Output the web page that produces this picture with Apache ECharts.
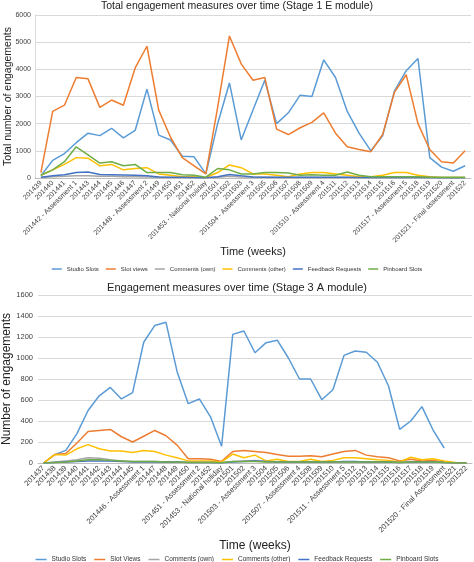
<!DOCTYPE html>
<html><head><meta charset="utf-8">
<script src="https://cdn.jsdelivr.net/npm/echarts@6/dist/echarts.min.js"></script>
<style>html,body{margin:0;padding:0;background:#fff}#c{width:474px;height:562px}</style>
</head><body><div id="c"></div>
<script>
// ---- Chart 1: Stage 1 E module ----
const weeks1 = ['201439','201440','201441','201442 - Assessment 1','201443','201444','201445','201446','201447','201448 - Assessment 2','201449','201450','201451','201452','201453 - National holiday','201501','201502','201503','201504 - Assessment 3','201505','201506','201507','201508','201509','201510 - Assessment 4','201511','201512','201513','201514','201515','201516','201517 - Assessment 5','201518','201519','201520','201521 - Final assessment','201522'];
const studio1 = [80,650,900,1300,1650,1560,1830,1480,1750,3270,1580,1400,800,780,150,2000,3500,1400,2500,3600,2000,2400,3050,3000,4350,3700,2450,1650,1000,1550,3200,3950,4400,750,400,250,450];
const slotViews1 = [200,2450,2680,3700,3650,2600,2870,2680,4050,4850,2500,1500,750,450,150,2600,5230,4200,3600,3700,1800,1600,1850,2050,2400,1650,1150,1050,970,1600,3150,3800,2000,1050,600,550,1000];
const commOwn1 = [20,50,60,80,80,60,60,50,50,40,30,20,20,15,5,30,60,40,30,30,20,20,20,20,20,20,20,15,10,15,20,20,20,10,5,5,5];
const commOther1 = [100,300,500,750,730,450,500,300,350,380,150,100,50,50,20,200,480,380,150,150,100,50,150,200,200,150,100,50,50,100,200,200,100,50,20,20,20];
const feedback1 = [30,80,120,200,220,130,120,110,100,80,40,30,30,20,10,50,130,80,40,30,30,30,30,30,30,30,30,20,20,20,20,20,20,20,10,10,10];
const pinboard1 = [100,300,600,1150,850,550,600,450,500,200,200,200,120,100,30,350,300,150,150,200,200,180,100,120,100,100,220,100,50,50,50,50,50,30,30,30,30];
const names1 = ['Studio Slots','Slot views','Comments (own)','Comments (other)','Feedback Requests','Pinboard Slots'];

// ---- Chart 2: Stage 3 A module ----
const weeks2 = ['201437','201438','201439','201440','201441','201442','201443','201444','201445','201446 - Assessment 1','201447','201448','201449','201450','201451 - Assessment 2','201452','201453 - National holiday','201501','201502','201503 - Assessment 3','201504','201505','201506','201507 - Assessment 4','201508','201509','201510','201511 - Assessment 5','201512','201513','201514','201515','201516','201517','201518','201519','201520 - Final Assessment','201521','201522'];
const studio2 = [0,80,120,280,500,640,720,610,670,1150,1310,1340,870,565,610,440,160,1225,1257,1050,1146,1170,1000,800,800,603,698,1025,1067,1055,960,733,320,400,537,314,143,null,null];
const slotViews2 = [0,80,90,190,300,310,320,250,200,255,310,260,170,40,40,35,15,110,120,110,100,80,65,65,70,60,85,110,120,75,60,50,20,35,20,25,10,0,0];
const commOwn2 = [0,10,20,30,50,45,30,20,15,15,15,10,10,5,5,5,2,15,20,25,15,10,10,10,10,10,10,10,10,10,10,10,5,10,10,10,5,2,0];
const commOther2 = [0,80,75,135,175,135,115,115,100,120,110,75,50,20,20,20,10,85,50,75,20,35,15,15,35,15,25,50,50,40,30,25,10,55,30,40,20,5,0];
const feedback2 = [0,5,10,15,20,20,20,15,10,10,10,10,10,5,5,5,2,10,15,20,15,10,10,10,10,10,10,15,15,10,10,10,5,10,10,10,5,2,0];
const pinboard2 = [0,5,10,20,30,30,25,20,15,15,15,10,10,5,5,5,2,15,15,15,10,10,10,10,10,10,10,10,10,10,10,10,5,10,10,10,5,2,0];
const names2 = ['Studio Slots','Slot Views','Comments (own)','Comments (other)','Feedback Requests','Pinboard Slots'];

const colors = ['#5B9BD5','#ED7D31','#A5A5A5','#FFC000','#4472C4','#70AD47'];
const FONT = '"Liberation Sans", Arial, sans-serif';

const data1 = [studio1, slotViews1, commOwn1, commOther1, feedback1, pinboard1];
const data2 = [studio2, slotViews2, commOwn2, commOther2, feedback2, pinboard2];

function mkSeries(names, data, gi) {
  return names.map((n, k) => ({
    name: n, type: 'line', xAxisIndex: gi, yAxisIndex: gi,
    data: data[k], symbol: 'none', smooth: false, connectNulls: false,
    lineStyle: { width: 1.5, color: colors[k] }, itemStyle: { color: colors[k] },
    z: 2 + k
  }));
}

const chart = echarts.init(document.getElementById('c'), null, { renderer: 'canvas' });
chart.setOption({
  animation: false,
  textStyle: { fontFamily: FONT },
  title: [
    { text: 'Total engagement measures over time (Stage 1 E module)', left: 'center', top: -4,
      textStyle: { fontSize: 10.5, fontWeight: 'normal', color: '#222', fontFamily: FONT } },
    { text: 'Engagement measures over time (Stage 3 A module)', left: 'center', top: 277,
      textStyle: { fontSize: 11, fontWeight: 'normal', color: '#222', fontFamily: FONT } }
  ],
  legend: [
    { data: names1, left: 'center', top: 261, itemWidth: 10, itemHeight: 1.5, icon: 'rect', itemGap: 7,
      textStyle: { fontSize: 6, color: '#333', fontFamily: FONT } },
    { data: names2, left: 'center', top: 551, itemWidth: 11, itemHeight: 1.5, icon: 'rect', itemGap: 8,
      textStyle: { fontSize: 6.5, color: '#333', fontFamily: FONT } }
  ],
  grid: [
    { left: 35, right: 3, top: 15, height: 163, containLabel: false, outerBoundsMode: 'none' },
    { left: 38, right: 2, top: 295, height: 168, containLabel: false, outerBoundsMode: 'none' }
  ],
  xAxis: [
    { type: 'category', gridIndex: 0, data: weeks1, boundaryGap: true,
      axisLine: { lineStyle: { color: '#bfbfbf' } }, axisTick: { show: false },
      axisLabel: { rotate: 45, interval: 0, fontSize: 7, color: '#404040', margin: 4 },
      name: 'Time (weeks)', nameLocation: 'middle', nameGap: 67,
      nameTextStyle: { fontSize: 11, color: '#222' } },
    { type: 'category', gridIndex: 1, data: weeks2, boundaryGap: true,
      axisLine: { lineStyle: { color: '#bfbfbf' } }, axisTick: { show: false },
      axisLabel: { rotate: 45, interval: 0, fontSize: 7.5, color: '#404040', margin: 4 },
      name: 'Time (weeks)', nameLocation: 'middle', nameGap: 77,
      nameTextStyle: { fontSize: 12, color: '#222' } }
  ],
  yAxis: [
    { type: 'value', gridIndex: 0, min: 0, max: 6000, interval: 1000,
      axisLine: { show: true, lineStyle: { color: '#d9d9d9' } }, axisTick: { show: false },
      splitLine: { lineStyle: { color: '#d9d9d9' } },
      axisLabel: { fontSize: 7, color: '#404040', margin: 4, formatter: v => String(v) },
      name: 'Total number of engagements', nameLocation: 'middle', nameGap: 21, nameMoveOverlap: false,
      nameTextStyle: { fontSize: 10.5, color: '#222' } },
    { type: 'value', gridIndex: 1, min: 0, max: 1600, interval: 200,
      axisLine: { show: false }, axisTick: { show: false },
      splitLine: { lineStyle: { color: '#d9d9d9' } },
      axisLabel: { fontSize: 7.5, color: '#404040', margin: 5, formatter: v => String(v) },
      name: 'Number of engagements', nameLocation: 'middle', nameGap: 25, nameMoveOverlap: false,
      nameTextStyle: { fontSize: 12, color: '#222' } }
  ],
  series: mkSeries(names1, data1, 0).concat(mkSeries(names2, data2, 1))
});
</script></body></html>
